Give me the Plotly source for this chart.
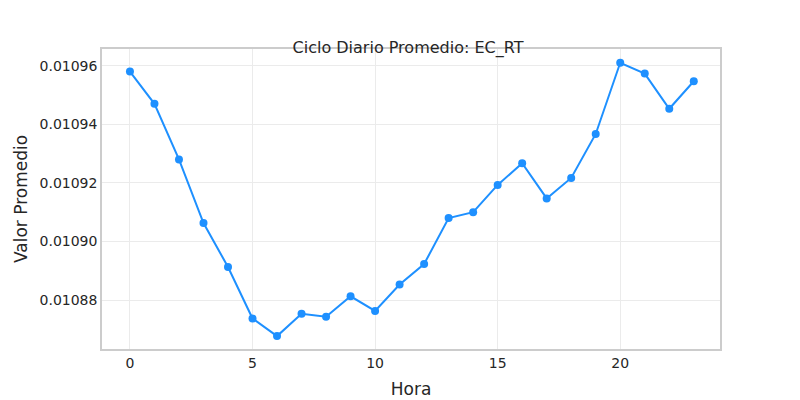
import plotly.graph_objects as go

horas = list(range(24))
valores = [
    0.010958, 0.010947, 0.010928, 0.0109063, 0.0108913, 0.0108737,
    0.0108677, 0.0108753, 0.0108743, 0.0108813, 0.0108763, 0.0108853,
    0.0108923, 0.010908, 0.01091, 0.0109193, 0.0109267, 0.0109147,
    0.0109217, 0.0109367, 0.010961, 0.0109573, 0.0109453, 0.0109547,
]

fig = go.Figure(
    go.Scatter(
        x=horas,
        y=valores,
        mode="lines+markers",
        line=dict(color="#1e90ff", width=2),
        marker=dict(color="#1e90ff", size=8),
    )
)
fig.update_layout(
    title=dict(text="Ciclo Diario Promedio: EC_RT", x=0.5, y=0.915, xanchor="center",
               font=dict(size=16, color="#262626")),
    width=800,
    height=400,
    margin=dict(t=41, l=93, r=88, b=45),
    plot_bgcolor="white",
    paper_bgcolor="white",
    font=dict(family="DejaVu Sans", size=14, color="#262626"),
    showlegend=False,
)
axis_style = dict(
    showgrid=True, gridcolor="#ebebeb", showline=True, linecolor="#cccccc",
    linewidth=1.5, mirror=True, ticks="", zeroline=False,
)
fig.update_xaxes(title=dict(text="Hora", standoff=14), range=[-1.14, 24.07],
                 tickvals=[0, 5, 10, 15, 20], **axis_style)
fig.update_yaxes(title=dict(text="Valor Promedio", standoff=8),
                 range=[0.0108633, 0.0109657], tickformat=".5f",
                 tickvals=[0.01088, 0.0109, 0.01092, 0.01094, 0.01096], **axis_style)
fig.write_html("out.html")
